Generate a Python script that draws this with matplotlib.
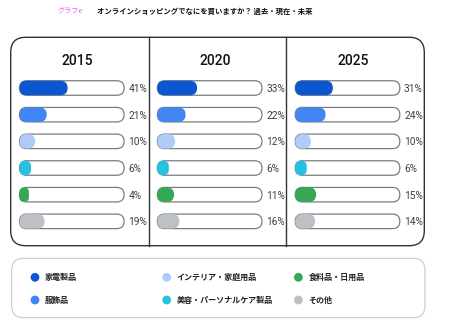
import matplotlib.pyplot as plt
from matplotlib.patches import FancyBboxPatch

plt.rcParams['font.family'] = ['Noto Sans CJK JP', 'DejaVu Sans']

years = ['2015', '2020', '2025']
categories = ['家電製品', '服飾品', 'インテリア・家庭用品',
              '美容・パーソナルケア製品', '食料品・日用品', 'その他']
colors = ['#0b57d0', '#4285f4', '#aecbfa', '#24c1e0', '#34a853', '#bdc1c6']
share_2015 = [41, 21, 10, 6, 4, 19]
share_2020 = [33, 22, 12, 6, 11, 16]
share_2025 = [31, 24, 10, 6, 15, 14]
shares = [share_2015, share_2020, share_2025]

W, H = 449, 331
fig = plt.figure(figsize=(W / 100, H / 100), dpi=100)


def px_axes(x, y, w, h):
    # axes placed by pixel box measured from the top-left corner
    return fig.add_axes([x / W, 1 - (y + h) / H, w / W, h / H])


# background layer in pixel units: frames, title, legend
bg = px_axes(0, 0, W, H)
bg.set_xlim(0, W)
bg.set_ylim(H, 0)
bg.axis('off')

bg.text(58, 11, 'グラフe', color='#f05cf0', fontsize=5.1, va='center')
bg.text(97, 11, 'オンラインショッピングでなにを買いますか？ 過去・現在・未来',
        fontsize=5.3, weight='bold', va='center', color='#111111')

box_l, box_r, box_t, box_b = 10.7, 424.3, 37.3, 245.7
panel_w = (box_r - box_l) / 3
bg.add_patch(FancyBboxPatch((box_l, box_t), box_r - box_l, box_b - box_t,
                            boxstyle='round,pad=0,rounding_size=15',
                            fc='none', ec='#333333', lw=1.0))
for k in (1, 2):
    bg.plot([box_l + k * panel_w] * 2, [box_t, box_b], color='#333333', lw=1.0)

# progress-bar panels, one per year
row_h = 26.67
bar_h = 14.5
track_px = 104.6
ux = 100 / track_px
uy = 1 / row_h
asp = uy / ux
h = bar_h * uy
r = bar_h / 2 * ux

for k, (year, vals) in enumerate(zip(years, shares)):
    x0 = box_l + k * panel_w + 8.8
    ax = px_axes(x0, 88 - row_h / 2, track_px, row_h * 6)
    ax.set_xlim(0, 100)
    ax.set_ylim(5.5, -0.5)
    ax.axis('off')
    ax.text(55, -0.85, year, ha='center', va='baseline', fontsize=10,
            weight='medium', family=['Roboto', 'DejaVu Sans'],
            color='#111111')
    for i, (v, c) in enumerate(zip(vals, colors)):
        ax.add_patch(FancyBboxPatch((0, i - h / 2), 100, h,
                                    boxstyle=f'round,pad=0,rounding_size={r}',
                                    mutation_aspect=asp, fc='white',
                                    ec='#7a7d80', lw=0.9, clip_on=False))
        w = v + 5
        ax.add_patch(FancyBboxPatch((0, i - h / 2), w, h,
                                    boxstyle=f'round,pad=0,rounding_size={min(r, w / 2)}',
                                    mutation_aspect=asp, fc=c, ec='none',
                                    clip_on=False))
        ax.text(104, i + 0.15, f'{v}%', ha='left', va='baseline', fontsize=7.3,
                family=['Roboto', 'DejaVu Sans'], color='#3c4043')

# legend box
leg_l, leg_t, leg_r, leg_b = 11.7, 258.3, 425, 317.7
bg.add_patch(FancyBboxPatch((leg_l, leg_t), leg_r - leg_l, leg_b - leg_t,
                            boxstyle='round,pad=0,rounding_size=12',
                            fc='white', ec='#cfcfcf', lw=0.9))
for j, (name, c) in enumerate(zip(categories, colors)):
    col, row = divmod(j, 2)
    lx = 35 + col * 131.7
    ly = 277.3 + row * 22.7
    bg.scatter(lx, ly, s=40, color=c, edgecolors='none')
    bg.text(lx + 10, ly, name, va='center', fontsize=5.8, weight='bold',
            color='#202124')

fig.savefig('out.png', dpi=100)
